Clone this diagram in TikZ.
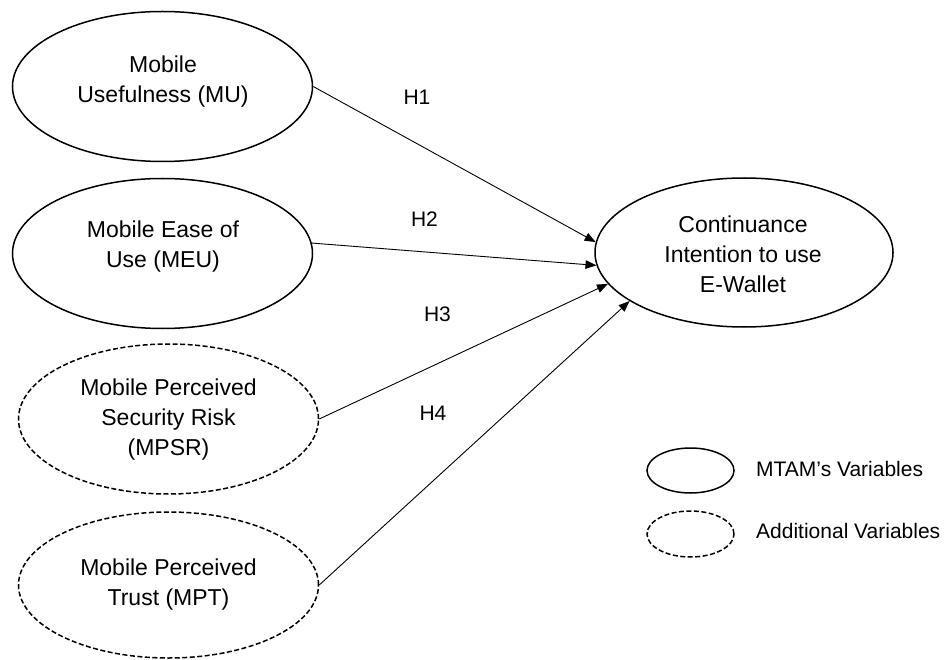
\documentclass[tikz,border=0pt]{standalone}
\usepackage{fontspec}
\setmainfont{Liberation Sans}
\usetikzlibrary{shapes.geometric,arrows.meta}
\begin{document}
\begin{tikzpicture}[x=1pt,y=-1pt,
  var/.style={ellipse,draw,line width=1.5pt,minimum width=300pt,minimum height=150pt,inner sep=0pt},
  addvar/.style={var,dash pattern=on 5pt off 2.5pt},
  vartext/.style={align=center,inner sep=0pt,font=\fontsize{23}{30}\selectfont},
  hyp/.style={inner sep=0pt,font=\fontsize{21}{25}\selectfont},
  legtext/.style={anchor=west,inner sep=0pt,font=\fontsize{21}{25}\selectfont},
  link/.style={line width=0.9pt,-{Triangle[length=11pt,width=8.5pt]}}]
\fill[white] (0,0) rectangle (950,660);
\useasboundingbox (0,0) rectangle (950,660);

% constructs
\node[var] (mu) at (162.5,86.5) {};
\node[vartext] (mut) at (163,82) {Mobile\\Usefulness (MU)};
\node[var] (meu) at (162.5,253.5) {};
\node[vartext] (meut) at (163,247) {Mobile Ease of\\Use (MEU)};
\node[addvar] (mpsr) at (168.5,419) {};
\node[vartext] (mpsrt) at (168.5,420) {Mobile Perceived\\Security Risk\\(MPSR)};
\node[addvar,minimum height=146pt] (mpt) at (168.5,585) {};
\node[vartext] (mptt) at (168.5,585) {Mobile Perceived\\Trust (MPT)};

% outcome
\node[var,minimum width=298pt,minimum height=149pt] (ci) at (744,252.5) {};
\node[vartext] (cit) at (743,254) {Continuance\\Intention to use\\E-Wallet};

% hypotheses
\draw[link] (mu.east) -- (ci.176.4);
\draw[link] (meu.4) -- (ci.185.2);
\draw[link] (mpsr.east) -- (ci.193.9);
\draw[link] (mpt.east) -- (ci.203.7);
\node[hyp] (h1) at (417,97.5) {H1};
\node[hyp] (h2) at (424.5,219.5) {H2};
\node[hyp] (h3) at (437.5,314.5) {H3};
\node[hyp] (h4) at (433,413) {H4};

% legend
\node[var,minimum width=87pt,minimum height=45pt] (legsolid) at (690.5,470.5) {};
\node[legtext] (legsolidt) at (756,469) {MTAM’s Variables};
\node[addvar,minimum width=87pt,minimum height=46pt] (legdash) at (690.5,534) {};
\node[legtext] (legdasht) at (756,531) {Additional Variables};
\end{tikzpicture}
\end{document}
